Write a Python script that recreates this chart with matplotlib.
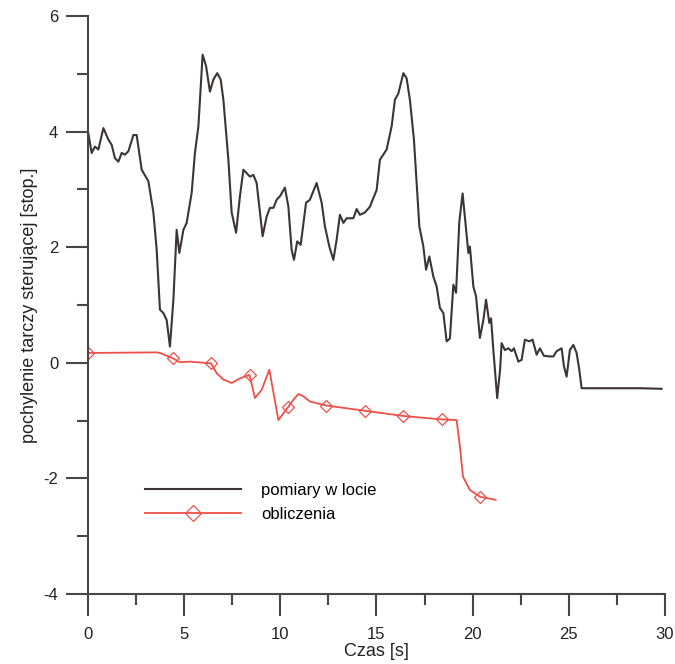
# Libraries
import matplotlib
matplotlib.use('Agg')
import matplotlib.pyplot as plt
from matplotlib.ticker import MultipleLocator
import numpy as np

plt.rcParams['font.family'] = ['Liberation Sans', 'DejaVu Sans']
plt.rcParams['axes.unicode_minus'] = False

# Data
# pomiary w locie (measured in flight)
black_t = [0.0, 0.19, 0.36, 0.54, 0.8, 1.06, 1.23, 1.4, 1.58, 1.75, 1.92, 2.1, 2.36, 2.53,
           2.79, 3.14, 3.4, 3.57, 3.74, 3.92, 4.09, 4.26, 4.44, 4.61, 4.75, 4.96, 5.13, 5.39,
           5.56, 5.74, 5.96, 6.14, 6.34, 6.52, 6.72, 6.9, 7.04, 7.3, 7.47, 7.7, 7.9, 8.08,
           8.25, 8.42, 8.6, 8.77, 8.94, 9.08, 9.29, 9.46, 9.64, 9.81, 9.98, 10.24, 10.42,
           10.59, 10.71, 10.88, 11.06, 11.34, 11.54, 11.89, 12.15, 12.32, 12.55, 12.76, 12.93,
           13.1, 13.28, 13.45, 13.8, 13.97, 14.14, 14.4, 14.66, 15.01, 15.18, 15.53, 15.79,
           15.96, 16.14, 16.4, 16.57, 16.74, 16.95, 17.09, 17.23, 17.44, 17.58, 17.75, 17.96,
           18.13, 18.3, 18.48, 18.65, 18.82, 19.0, 19.14, 19.31, 19.48, 19.66, 19.78, 19.86,
           20.04, 20.18, 20.38, 20.56, 20.7, 20.87, 20.96, 21.08, 21.28, 21.43, 21.51, 21.68,
           21.86, 22.03, 22.15, 22.38, 22.55, 22.72, 22.95, 23.12, 23.33, 23.5, 23.71, 24.02,
           24.2, 24.37, 24.63, 24.75, 24.89, 25.06, 25.24, 25.41, 25.55, 25.67, 26.97, 28.7,
           29.83]
black_v = [4.0, 3.63, 3.74, 3.69, 4.06, 3.86, 3.77, 3.54, 3.48, 3.63, 3.6, 3.66, 3.94, 3.94,
           3.34, 3.14, 2.6, 1.96, 0.92, 0.86, 0.74, 0.28, 1.09, 2.3, 1.9, 2.3, 2.42, 2.94,
           3.63, 4.09, 5.33, 5.13, 4.69, 4.9, 5.01, 4.9, 4.55, 3.51, 2.6, 2.25, 2.88, 3.34,
           3.28, 3.22, 3.25, 3.11, 2.6, 2.19, 2.53, 2.68, 2.68, 2.82, 2.88, 3.03, 2.7,
           1.95, 1.78, 2.1, 2.04, 2.77, 2.82, 3.11, 2.77, 2.36, 2.01, 1.78, 2.13,
           2.56, 2.42, 2.5, 2.5, 2.66, 2.56, 2.6, 2.7, 2.99, 3.51, 3.69, 4.09,
           4.55, 4.66, 5.01, 4.92, 4.55, 3.86, 3.11, 2.36, 2.01, 1.61, 1.84, 1.49,
           1.32, 0.95, 0.86, 0.37, 0.42, 1.35, 1.21, 2.44, 2.93, 2.3, 1.9, 2.01,
           1.32, 1.15, 0.43, 0.74, 1.09, 0.69, 0.77, 0.22, -0.61, -0.12, 0.34, 0.22,
           0.25, 0.2, 0.25, 0.02, 0.05, 0.4, 0.37, 0.4, 0.14, 0.25, 0.12, 0.11,
           0.11, 0.2, 0.25, -0.06, -0.24, 0.22, 0.31, 0.17, -0.12, -0.44, -0.44, -0.44,
           -0.45]

# obliczenia (computed)
red_t = [0.0, 3.57, 3.74, 4.4, 4.78, 5.3, 6.4, 6.69, 7.04, 7.47, 7.9, 8.4, 8.68, 9.03, 9.43,
         9.9, 10.4, 10.68, 10.94, 11.2, 11.54, 12.4, 14.4, 16.4, 18.4, 19.17, 19.34, 19.5,
         19.86, 20.4, 21.2]
red_v = [0.17, 0.18, 0.17, 0.08, 0.01, 0.02, -0.01, -0.18, -0.29, -0.35, -0.27, -0.21, -0.61,
         -0.47, -0.12, -0.99, -0.77, -0.64, -0.54, -0.58, -0.67, -0.74, -0.83, -0.92, -0.98,
         -0.99, -1.45, -1.97, -2.2, -2.32, -2.37]
marker_t = [0.0, 4.4, 6.4, 8.4, 10.4, 12.4, 14.4, 16.4, 18.4, 20.4]

x_ticks = [0, 5, 10, 15, 20, 25, 30]
y_ticks = [-4, -2, 0, 2, 4, 6]

# Figure
fig = plt.figure(figsize=(6.75, 6.64), dpi=100)
ax = fig.add_axes([0.1304, 0.1054, 0.8546, 0.8706])

dark = '#3b3535'
red = '#ef4f49'
marks = list(np.where(np.isin(red_t, marker_t))[0])

ax.plot(black_t, black_v, color=dark, lw=1.5, label='pomiary w locie')
ax.plot(red_t, red_v, color=red, lw=1.3, marker='D', markersize=6.5,
        markerfacecolor='none', markeredgecolor=red, markeredgewidth=0.9,
        markevery=marks, label='obliczenia')

ax.set_xlim(0, 30)
ax.set_ylim(-4, 6)
ax.set_xticks(x_ticks)
ax.set_yticks(y_ticks)
ax.xaxis.set_minor_locator(MultipleLocator(2.5))
ax.yaxis.set_minor_locator(MultipleLocator(1))

for s in ['top', 'right']:
    ax.spines[s].set_visible(False)
for s in ['left', 'bottom']:
    ax.spines[s].set_color('#4a4545')
    ax.spines[s].set_linewidth(1.5)

ax.tick_params(which='major', direction='out', length=15.5, width=1.5, color='#4a4545',
               labelsize=12, pad=6, labelcolor='#222222')
ax.tick_params(which='minor', direction='out', length=8, width=1.5, color='#4a4545')
ax.tick_params(axis='x', which='major', pad=8)

ax.set_xlabel('Czas [s]', fontsize=13, labelpad=1, color='#222222')
ax.set_ylabel('pochylenie tarczy sterującej [stop.]', fontsize=13, labelpad=4, color='#222222')

ax.legend(loc='center left', bbox_to_anchor=(0.098, 0.159), frameon=False, fontsize=12,
          handlelength=5.8, handletextpad=1.2, borderaxespad=0, borderpad=0,
          labelspacing=0.55, markerscale=1.2)

plt.savefig('out.png', dpi=100, facecolor='white')
